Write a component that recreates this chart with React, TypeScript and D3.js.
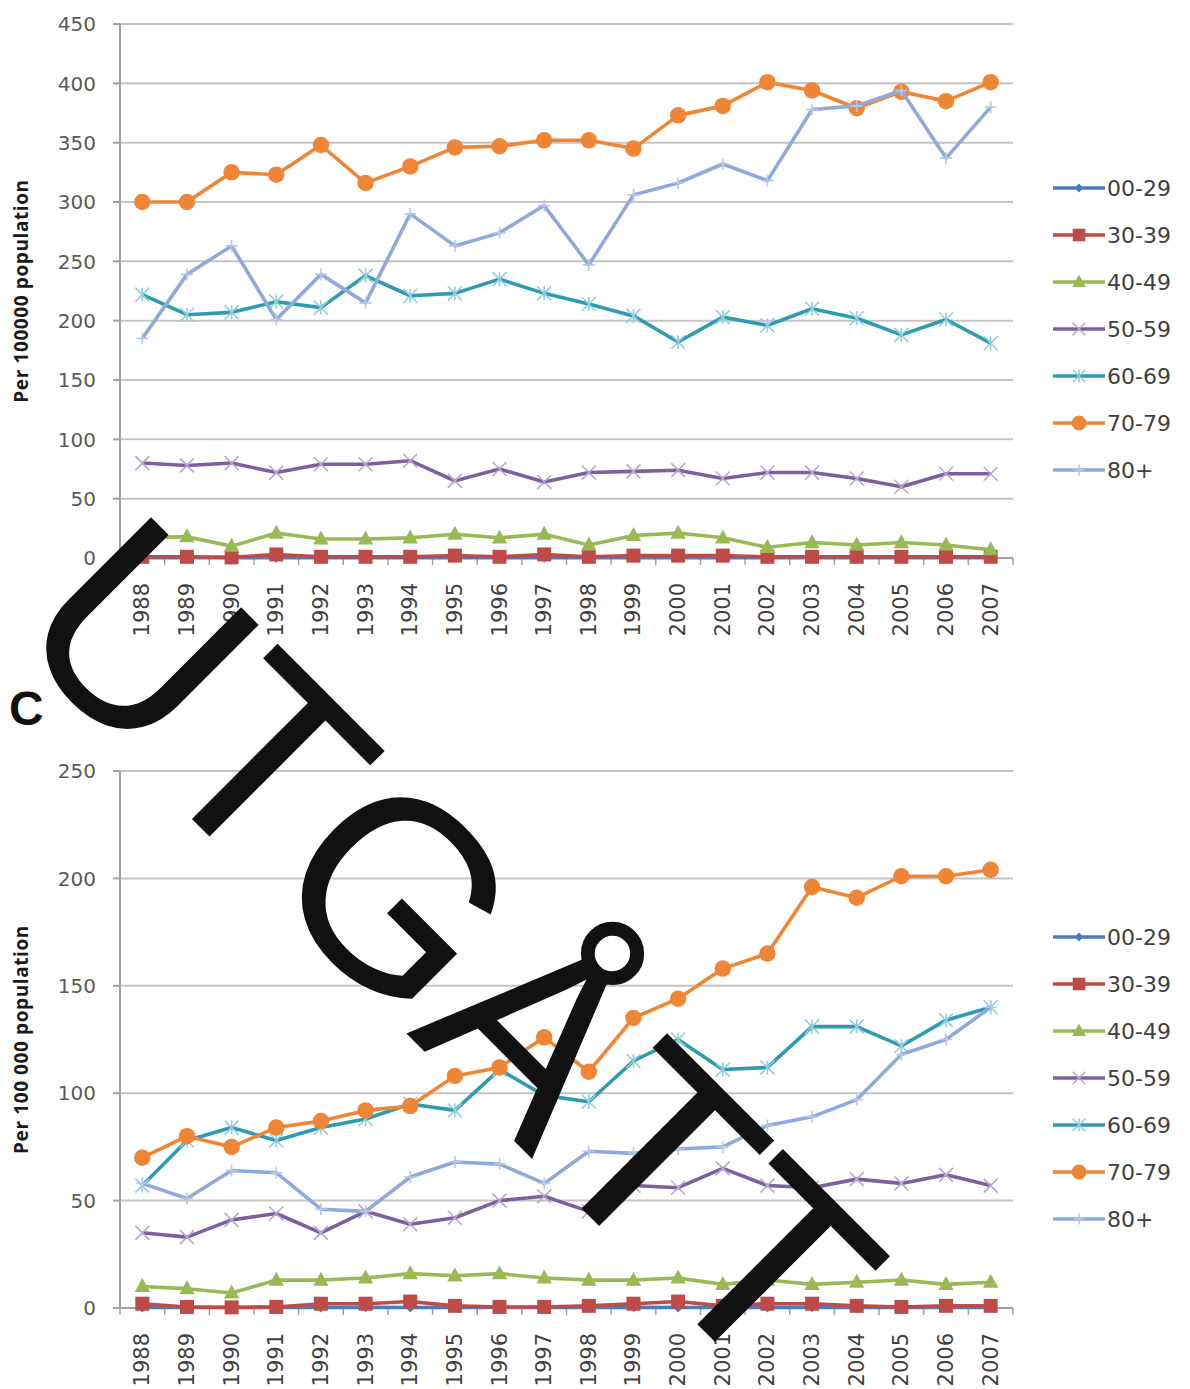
import * as d3 from "d3";

// categories
const years = ["1988","1989","1990","1991","1992","1993","1994","1995","1996","1997","1998","1999","2000","2001","2002","2003","2004","2005","2006","2007"];
const groups = ["00-29", "30-39", "40-49", "50-59", "60-69", "70-79", "80+"];

// top panel (per 100000 population)
const topAge00 = [0.3, 0.2, 0.3, 0.2, 0.3, 0.2, 0.3, 0.2, 0.3, 0.2, 0.3, 0.2, 0.3, 0.2, 0.3, 0.2, 0.3, 0.2, 0.3, 0.2];
const topAge30 = [1, 1, 0.5, 3, 1, 1, 1, 2, 1, 3, 1, 2, 2, 2, 1, 1, 1, 1, 1, 1];
const topAge40 = [17, 18, 10, 21, 16, 16, 17, 20, 17, 20, 11, 19, 21, 17, 9, 13, 11, 13, 11, 7];
const topAge50 = [80, 78, 80, 72, 79, 79, 82, 65, 75, 64, 72, 73, 74, 67, 72, 72, 67, 60, 71, 71];
const topAge60 = [222, 205, 207, 216, 211, 238, 221, 223, 235, 223, 214, 204, 182, 203, 196, 210, 202, 188, 201, 181];
const topAge70 = [300, 300, 325, 323, 348, 316, 330, 346, 347, 352, 352, 345, 373, 381, 401, 394, 379, 393, 385, 401];
const topAge80 = [185, 239, 263, 201, 239, 215, 290, 263, 274, 297, 247, 306, 316, 332, 318, 378, 381, 394, 337, 380];
const topTicks = [0, 50, 100, 150, 200, 250, 300, 350, 400, 450];

// bottom panel C (per 100 000 population)
const botAge00 = [0.2, 0.3, 0.2, 0.3, 0.2, 0.3, 0.2, 0.3, 0.2, 0.3, 0.2, 0.3, 0.2, 0.3, 0.2, 0.3, 0.2, 0.3, 0.2, 0.3];
const botAge30 = [2, 0.5, 0.3, 0.5, 2, 2, 3, 1, 0.5, 0.5, 1, 2, 3, 1, 2, 2, 1, 0.5, 1, 1];
const botAge40 = [10, 9, 7, 13, 13, 14, 16, 15, 16, 14, 13, 13, 14, 11, 13, 11, 12, 13, 11, 12];
const botAge50 = [35, 33, 41, 44, 35, 45, 39, 42, 50, 52, 45, 57, 56, 65, 57, 56, 60, 58, 62, 57];
const botAge60 = [57, 78, 84, 78, 84, 88, 95, 92, 111, 99, 96, 115, 125, 111, 112, 131, 131, 122, 134, 140];
const botAge70 = [70, 80, 75, 84, 87, 92, 94, 108, 112, 126, 110, 135, 144, 158, 165, 196, 191, 201, 201, 204];
const botAge80 = [58, 51, 64, 63, 46, 45, 61, 68, 67, 58, 73, 72, 74, 75, 85, 89, 97, 118, 125, 140];
const botTicks = [0, 50, 100, 150, 200, 250];

const lineColors = ["#4A7EBB", "#BE4B48", "#98B954", "#7D5FA0", "#2E9BB3", "#EE8636", "#8FA9DA"];
const markColors = ["#4A7EBB", "#BE4B48", "#98B954", "#B9A7D0", "#93CDDD", "#EE8636", "#B7C7EA"];
const shapes = ["diamond", "square", "triangle", "x", "star", "circle", "plus"];

function Marker({ shape, x, y, color, s }: { shape: string; x: number; y: number; color: string; s: number }) {
  if (shape === "circle") return <circle cx={x} cy={y} r={s * 0.55} fill={color} />;
  if (shape === "square") return <rect x={x - s / 2} y={y - s / 2} width={s} height={s} fill={color} />;
  if (shape === "diamond")
    return <path d={`M${x},${y - s / 2}L${x + s / 2},${y}L${x},${y + s / 2}L${x - s / 2},${y}Z`} fill={color} />;
  if (shape === "triangle")
    return <path d={`M${x},${y - s * 0.6}L${x + s * 0.55},${y + s * 0.4}L${x - s * 0.55},${y + s * 0.4}Z`} fill={color} />;
  const h = s / 2;
  if (shape === "x")
    return <path d={`M${x - h},${y - h}L${x + h},${y + h}M${x - h},${y + h}L${x + h},${y - h}`} stroke={color} strokeWidth={1.6} />;
  if (shape === "star")
    return (
      <path
        d={`M${x - h},${y - h}L${x + h},${y + h}M${x - h},${y + h}L${x + h},${y - h}M${x},${y - h}L${x},${y + h}`}
        stroke={color}
        strokeWidth={1.6}
      />
    );
  return <path d={`M${x - h},${y}L${x + h},${y}M${x},${y - h}L${x},${y + h}`} stroke={color} strokeWidth={1.6} />;
}

function Panel({
  series,
  ticks,
  top,
  bottom,
  title,
  legendTop,
}: {
  series: number[][];
  ticks: number[];
  top: number;
  bottom: number;
  title: string;
  legendTop: number;
}) {
  const left = 120;
  const right = 1013;
  const x = d3.scaleBand<string>().domain(years).range([left, right]);
  const cx = (yr: string) => (x(yr) as number) + x.bandwidth() / 2;
  const y = d3.scaleLinear().domain([0, ticks[ticks.length - 1]]).range([bottom, top]);
  const line = d3
    .line<number>()
    .x((d, i) => cx(years[i]))
    .y((d) => y(d));
  const sizes = [10, 14, 14, 14, 14, 15, 12];

  return (
    <g>
      {ticks.map((t) => (
        <g key={t}>
          {t > 0 && <line x1={left} x2={right} y1={y(t)} y2={y(t)} stroke="#C4C4C4" strokeWidth={2} />}
          <line x1={left - 7} x2={left} y1={y(t)} y2={y(t)} stroke="#A0A0A0" strokeWidth={2} />
          <text x={96} y={y(t)} dy="0.36em" textAnchor="end" fontSize={20} fill="#5A5A5A" fontFamily="DejaVu Sans">
            {t}
          </text>
        </g>
      ))}
      <line x1={left} x2={left} y1={top} y2={bottom} stroke="#A0A0A0" strokeWidth={2} />
      <line x1={left} x2={right} y1={bottom} y2={bottom} stroke="#A0A0A0" strokeWidth={2} />
      {years.concat(["end"]).map((yr, i) => {
        const px = left + i * x.bandwidth();
        return <line key={yr} x1={px} x2={px} y1={bottom} y2={bottom + 7} stroke="#A0A0A0" strokeWidth={1.5} />;
      })}
      {years.map((yr) => (
        <text
          key={yr}
          transform={`translate(${cx(yr) + 7},${bottom + 25}) rotate(-90)`}
          textAnchor="end"
          fontSize={21}
          fill="#404040"
          fontFamily="DejaVu Sans"
        >
          {yr}
        </text>
      ))}
      <text
        transform={`translate(28,${(top + bottom) / 2}) rotate(-90)`}
        textAnchor="middle"
        fontSize={19}
        fontWeight="bold"
        letterSpacing={0.6}
        fill="#1a1a1a"
        fontFamily="Open Sans"
      >
        {title}
      </text>
      {series.map((vals, k) => (
        <g key={groups[k]}>
          <path d={line(vals) as string} fill="none" stroke={lineColors[k]} strokeWidth={3.6} strokeLinejoin="round" />
          {vals.map((v, i) => (
            <Marker key={i} shape={shapes[k]} x={cx(years[i])} y={y(v)} color={markColors[k]} s={sizes[k]} />
          ))}
        </g>
      ))}
      {groups.map((g, k) => {
        const ly = legendTop + k * 47;
        return (
          <g key={g}>
            <line x1={1053} x2={1105} y1={ly} y2={ly} stroke={lineColors[k]} strokeWidth={3.6} />
            <Marker shape={shapes[k]} x={1079} y={ly} color={markColors[k]} s={sizes[k] * 0.9} />
            <text x={1107} y={ly} dy="0.36em" fontSize={22} fill="#404040" fontFamily="DejaVu Sans">
              {g}
            </text>
          </g>
        );
      })}
    </g>
  );
}

export default function App() {
  const topSeries = [topAge00, topAge30, topAge40, topAge50, topAge60, topAge70, topAge80];
  const botSeries = [botAge00, botAge30, botAge40, botAge50, botAge60, botAge70, botAge80];
  return (
    <svg
      width={1190}
      height={1389}
      style={{ position: "absolute", left: 0, top: 0, background: "#fff" }}
    >
      <rect width={1190} height={1389} fill="#fff" />
      <Panel series={topSeries} ticks={topTicks} top={24} bottom={558} title="Per 100000 population" legendTop={188} />
      <text x={9} y={725} fontSize={48} fontWeight="bold" fontFamily="Liberation Sans" fill="#111">
        C
      </text>
      <Panel series={botSeries} ticks={botTicks} top={771} bottom={1308} title="Per 100 000 population" legendTop={937} />
      <text
        transform="translate(385,1012) rotate(45)"
        textAnchor="middle"
        fontSize={268}
        fontFamily="Liberation Sans"
        fill="#111"
      >
        UTGÅTT
      </text>
    </svg>
  );
}
